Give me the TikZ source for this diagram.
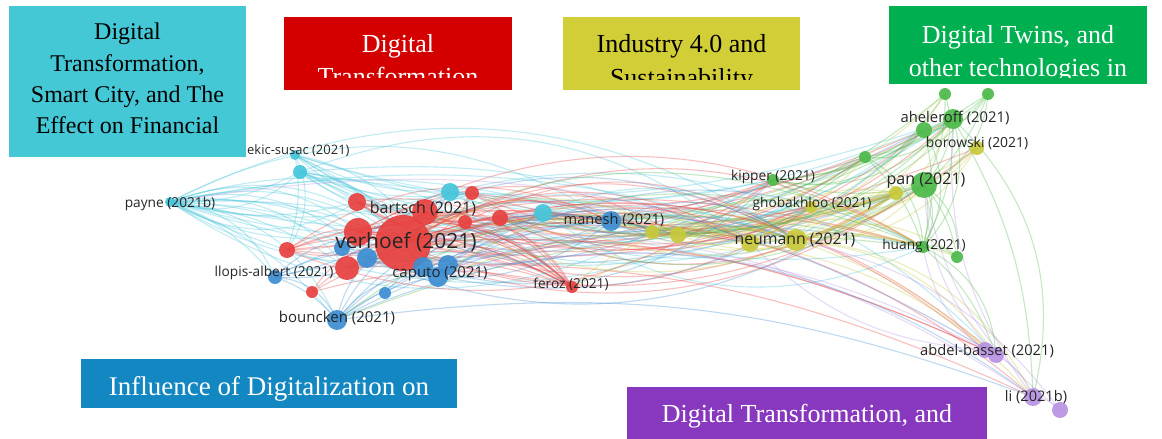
\documentclass[tikz,border=0pt]{standalone}
\usepackage{fontspec}
\newfontfamily\lblf{Open Sans}
\newfontfamily\boxf{Liberation Serif}
\usetikzlibrary{backgrounds}
\definecolor{cred}{HTML}{E8413F}
\definecolor{ccyan}{HTML}{45C6DB}
\definecolor{cblue}{HTML}{3D8ED3}
\definecolor{cyel}{HTML}{C8C93A}
\definecolor{cgreen}{HTML}{4DBA4A}
\definecolor{cpurp}{HTML}{B792E2}
\definecolor{bcyan}{HTML}{45C8D6}
\definecolor{bred}{HTML}{D40000}
\definecolor{byel}{HTML}{D2CE37}
\definecolor{bgreen}{HTML}{00B050}
\definecolor{bblue}{HTML}{1287C1}
\definecolor{bpurp}{HTML}{8738BE}
\definecolor{lbltext}{HTML}{262626}
\tikzset{
  vn/.style={circle, inner sep=0pt, fill opacity=0.92},
  lbl/.style={inner sep=0pt, text=lbltext, font=\lblf\fontsize{13.7}{14}\selectfont},
  edge/.style={line width=1.1pt, draw opacity=0.33},
  boxs/.style={rectangle, inner sep=0pt, draw=none},
  bline/.style={inner sep=0pt, anchor=base},
}
\begin{document}
\begin{tikzpicture}[x=1pt,y=-1pt]
\useasboundingbox (0,0) rectangle (1162,439);
% ---------- nodes ----------
% cyan
\node[vn, fill=ccyan, minimum size=10] (c1) at (295,155) {};
\node[vn, fill=ccyan, minimum size=14] (c2) at (300,172) {};
\node[vn, fill=ccyan, minimum size=10] (c3) at (170,202) {};
\node[vn, fill=ccyan, minimum size=18] (c4) at (450,192) {};
\node[vn, fill=ccyan, minimum size=18] (c5) at (543,213) {};
% red
\node[vn, fill=cred, minimum size=18] (r4) at (357,202) {};
\node[vn, fill=cred, minimum size=14] (r5) at (472,193) {};
\node[vn, fill=cred, minimum size=26] (r3) at (425,212) {};
\node[vn, fill=cred, minimum size=14] (r6) at (465,222) {};
\node[vn, fill=cred, minimum size=16] (r7) at (500,218) {};
\node[vn, fill=cred, minimum size=16] (r8) at (287,250) {};
\node[vn, fill=cred, minimum size=12] (r10) at (312,292) {};
\node[vn, fill=cred, minimum size=12] (r11) at (572,287) {};
% blue
\node[vn, fill=cblue, minimum size=16] (b1) at (342,248) {};
\node[vn, fill=cblue, minimum size=20] (b2) at (367,258) {};
\node[vn, fill=cred, minimum size=28] (r2) at (358,232) {};
\node[vn, fill=cred, minimum size=56] (r1) at (403,243) {};
\node[vn, fill=cred, minimum size=24] (r9) at (347,268) {};
\node[vn, fill=cblue, minimum size=20] (b4) at (423,267) {};
\node[vn, fill=cblue, minimum size=20] (b5) at (448,265) {};
\node[vn, fill=cblue, minimum size=20] (b3) at (438,277) {};
\node[vn, fill=cblue, minimum size=14] (b6) at (275,277) {};
\node[vn, fill=cblue, minimum size=12] (b7) at (385,293) {};
\node[vn, fill=cblue, minimum size=20] (b8) at (337,320) {};
\node[vn, fill=cblue, minimum size=20] (b9) at (611,221) {};
% yellow
\node[vn, fill=cyel, minimum size=14] (y1) at (652,232) {};
\node[vn, fill=cyel, minimum size=16] (y2) at (678,235) {};
\node[vn, fill=cyel, minimum size=12] (y3) at (811,207) {};
\node[vn, fill=cyel, minimum size=18] (y4) at (750,243) {};
\node[vn, fill=cyel, minimum size=22] (y5) at (796,240) {};
\node[vn, fill=cyel, minimum size=14] (y6) at (896,193) {};
\node[vn, fill=cyel, minimum size=14] (y7) at (977,148) {};
% green
\node[vn, fill=cgreen, minimum size=12] (g1) at (773,180) {};
\node[vn, fill=cgreen, minimum size=12] (g2) at (865,157) {};
\node[vn, fill=cgreen, minimum size=26] (g3) at (924,185) {};
\node[vn, fill=cgreen, minimum size=16] (g5) at (924,130) {};
\node[vn, fill=cgreen, minimum size=20] (g4) at (953,119) {};
\node[vn, fill=cgreen, minimum size=12] (g6) at (945,94) {};
\node[vn, fill=cgreen, minimum size=12] (g7) at (988,94) {};
\node[vn, fill=cgreen, minimum size=12] (g8) at (923,247) {};
\node[vn, fill=cgreen, minimum size=12] (g9) at (957,257) {};
% purple
\node[vn, fill=cpurp, minimum size=16] (p1) at (985,350) {};
\node[vn, fill=cpurp, minimum size=16] (p2) at (996,355) {};
\node[vn, fill=cpurp, minimum size=18] (p3) at (1033,397) {};
\node[vn, fill=cpurp, minimum size=16] (p4) at (1060,410) {};

% ---------- edges ----------
\begin{scope}[on background layer]
\fill[white] (0,0) rectangle (1162,439);
\foreach \bb in {14,30}{
% bending up
\foreach \s/\t in {c3/c2,c3/c4,c3/c5,c1/c4,c1/g1,c2/y3,c4/g3,c5/g8,c4/g5,c2/r5,c3/r4,c3/y1,c2/g4,c1/y6,c3/g2}
  \draw[edge, ccyan] (\s.center) to[bend right=\bb] (\t.center);
\foreach \s/\t in {r1/r3,r1/r5,r4/r7,r3/g1,r5/y3,r7/g4,r2/g3,r3/g5,r1/y3,r4/y6,r5/g2,r7/y6,r4/c5,r8/r3,r2/y7,r8/g1}
  \draw[edge, cred] (\s.center) to[bend right=\bb] (\t.center);
\foreach \s/\t in {b9/y3,b2/b9,b4/g1,b1/y6,b6/c4,b2/g5}
  \draw[edge, cblue] (\s.center) to[bend right=\bb] (\t.center);
\foreach \s/\t in {y1/y3,y2/y6,y5/y7,y3/y7,y1/g2,y4/g3,y5/g4,y2/g6,y3/y6,c5/y6,r3/y6,b9/y6}
  \draw[edge, cyel] (\s.center) to[bend right=\bb] (\t.center);
\foreach \s/\t in {g1/g3,g1/g4,g2/g4,g3/g6,g3/g7,g1/g5,c5/g2,b9/g4,g5/g7,y1/g6,b9/g7,r7/g3}
  \draw[edge, cgreen] (\s.center) to[bend right=\bb] (\t.center);
% bending down
\foreach \s/\t in {c3/r1,c3/b2,c3/r9,c3/b8,c3/b3,c3/r2,c3/b9,c2/b4,c2/y4,c1/b3,c4/p2,c5/y5,c2/r1,c3/b6,c1/r8,c3/r11,c3/y5}
  \draw[edge, ccyan] (\s.center) to[bend left=\bb] (\t.center);
\foreach \s/\t in {r1/r11,r2/r11,r3/r11,r4/r11,r8/r11,r1/b9,r1/y1,r1/y4,r1/y5,r9/y4,r1/g8,r1/p2,r9/p3,r2/y2,r6/y5,r8/r1,r10/r1,r9/r11,r6/r11,r1/p1,r2/g8,r8/b9,r10/r11,r2/r11}
  \draw[edge, cred] (\s.center) to[bend left=\bb] (\t.center);
\foreach \s/\t in {b3/b9,b8/b3,b8/r1,b6/r1,b6/b3,b7/b9,b1/y5,b8/y2,b3/g8,b9/y5,b5/y4,b8/p3,b6/b8,b2/y1,b8/b9}
  \draw[edge, cblue] (\s.center) to[bend left=\bb] (\t.center);
\foreach \s/\t in {y1/y4,y1/y5,y2/y5,y4/y6,y5/y6,y4/g8,y5/g9,y1/g8,y4/p2,y5/p3,r11/y5,b3/y4,r1/y2}
  \draw[edge, cyel] (\s.center) to[bend left=\bb] (\t.center);
\foreach \s/\t in {g3/g8,g4/g8,g5/g8,g8/g9,g3/g9,g8/p2,g4/p3,g2/g8,r9/g8,b8/g8}
  \draw[edge, cgreen] (\s.center) to[bend left=\bb] (\t.center);
}
\foreach \s/\t in {p2/p3,p3/p4,p1/g8,p2/g3,p3/g4,p1/y4,b3/p1,c3/p2,p4/g3,r1/p3,y5/p4}
  \draw[edge, cpurp] (\s.center) to[bend left=20] (\t.center);
\end{scope}

% ---------- labels ----------
\node[lbl, anchor=west, font=\lblf\fontsize{13}{14}\selectfont] (l1) at (247,151) {ekic-susac (2021)};
\node[lbl] (l2) at (170,204) {payne (2021b)};
\node[lbl, font=\lblf\fontsize{16}{16}\selectfont] (l3) at (423,209) {bartsch (2021)};
\node[lbl, font=\lblf\fontsize{21}{21}\selectfont] (l4) at (406,242) {verhoef (2021)};
\node[lbl] (l5) at (274,273) {llopis-albert (2021)};
\node[lbl, font=\lblf\fontsize{15}{15}\selectfont] (l6) at (440,274) {caputo (2021)};
\node[lbl, font=\lblf\fontsize{15}{15}\selectfont] (l7) at (337,318) {bouncken (2021)};
\node[lbl] (l8) at (571,284) {feroz (2021)};
\node[lbl, font=\lblf\fontsize{14.6}{15}\selectfont] (l9) at (614,220) {manesh (2021)};
\node[lbl] (l10) at (773,177) {kipper (2021)};
\node[lbl] (l11) at (812,204) {ghobakhloo (2021)};
\node[lbl, font=\lblf\fontsize{15.8}{16}\selectfont] (l12) at (795,240) {neumann (2021)};
\node[lbl, font=\lblf\fontsize{16}{16}\selectfont] (l13) at (926,181) {pan (2021)};
\node[lbl, font=\lblf\fontsize{14.8}{15}\selectfont] (l14) at (955,118) {aheleroff (2021)};
\node[lbl, font=\lblf\fontsize{13.9}{14}\selectfont] (l15) at (977,143) {borowski (2021)};
\node[lbl] (l16) at (924,246) {huang (2021)};
\node[lbl, font=\lblf\fontsize{14.7}{15}\selectfont] (l17) at (987,351) {abdel-basset (2021)};
\node[lbl, font=\lblf\fontsize{14.6}{15}\selectfont] (l18) at (1036,397) {li (2021b)};

% ---------- cluster boxes ----------
\node[boxs, fill=bcyan, minimum width=237, minimum height=151] (bx1) at (127.5,81.5) {};
\begin{scope}[font=\boxf\fontsize{24}{28}\selectfont]
\node[bline] (t11) at (127.5,39) {Digital};
\node[bline] (t12) at (127.5,71) {Transformation,};
\node[bline] (t13) at (127.5,102) {Smart City, and The};
\node[bline] (t14) at (127.5,133) {Effect on Financial};
\end{scope}

\node[boxs, fill=bred, minimum width=228, minimum height=73] (bx2) at (398,53.5) {};
\begin{scope}[font=\boxf\fontsize{26}{30}\selectfont]
\clip (284,17) rectangle (512,77.5);
\node[bline, text=white] (t21) at (398,52) {Digital};
\node[bline, text=white] (t22) at (398,85.5) {Transformation};
\end{scope}

\node[boxs, fill=byel, minimum width=237, minimum height=73] (bx3) at (681.5,53.5) {};
\begin{scope}[font=\boxf\fontsize{26}{30}\selectfont]
\clip (563,17) rectangle (800,79);
\node[bline] (t31) at (681.5,52) {Industry 4.0 and};
\node[bline] (t32) at (681.5,86) {Sustainability};
\end{scope}

\node[boxs, fill=bgreen, minimum width=258, minimum height=78] (bx4) at (1018,45) {};
\begin{scope}[font=\boxf\fontsize{26}{30}\selectfont]
\clip (889,6) rectangle (1147,77);
\node[bline, text=white] (t41) at (1018,43) {Digital Twins, and};
\node[bline, text=white] (t42) at (1018,76) {other technologies in};
\end{scope}

\node[boxs, fill=bblue, minimum width=376, minimum height=49] (bx5) at (269,383.5) {};
\node[bline, text=white, font=\boxf\fontsize{27}{30}\selectfont] (t51) at (269,395) {Influence of Digitalization on};

\node[boxs, fill=bpurp, minimum width=360, minimum height=52] (bx6) at (807,413) {};
\node[bline, text=white, font=\boxf\fontsize{26}{30}\selectfont] (t61) at (807,422) {Digital Transformation, and};
\end{tikzpicture}
\end{document}
